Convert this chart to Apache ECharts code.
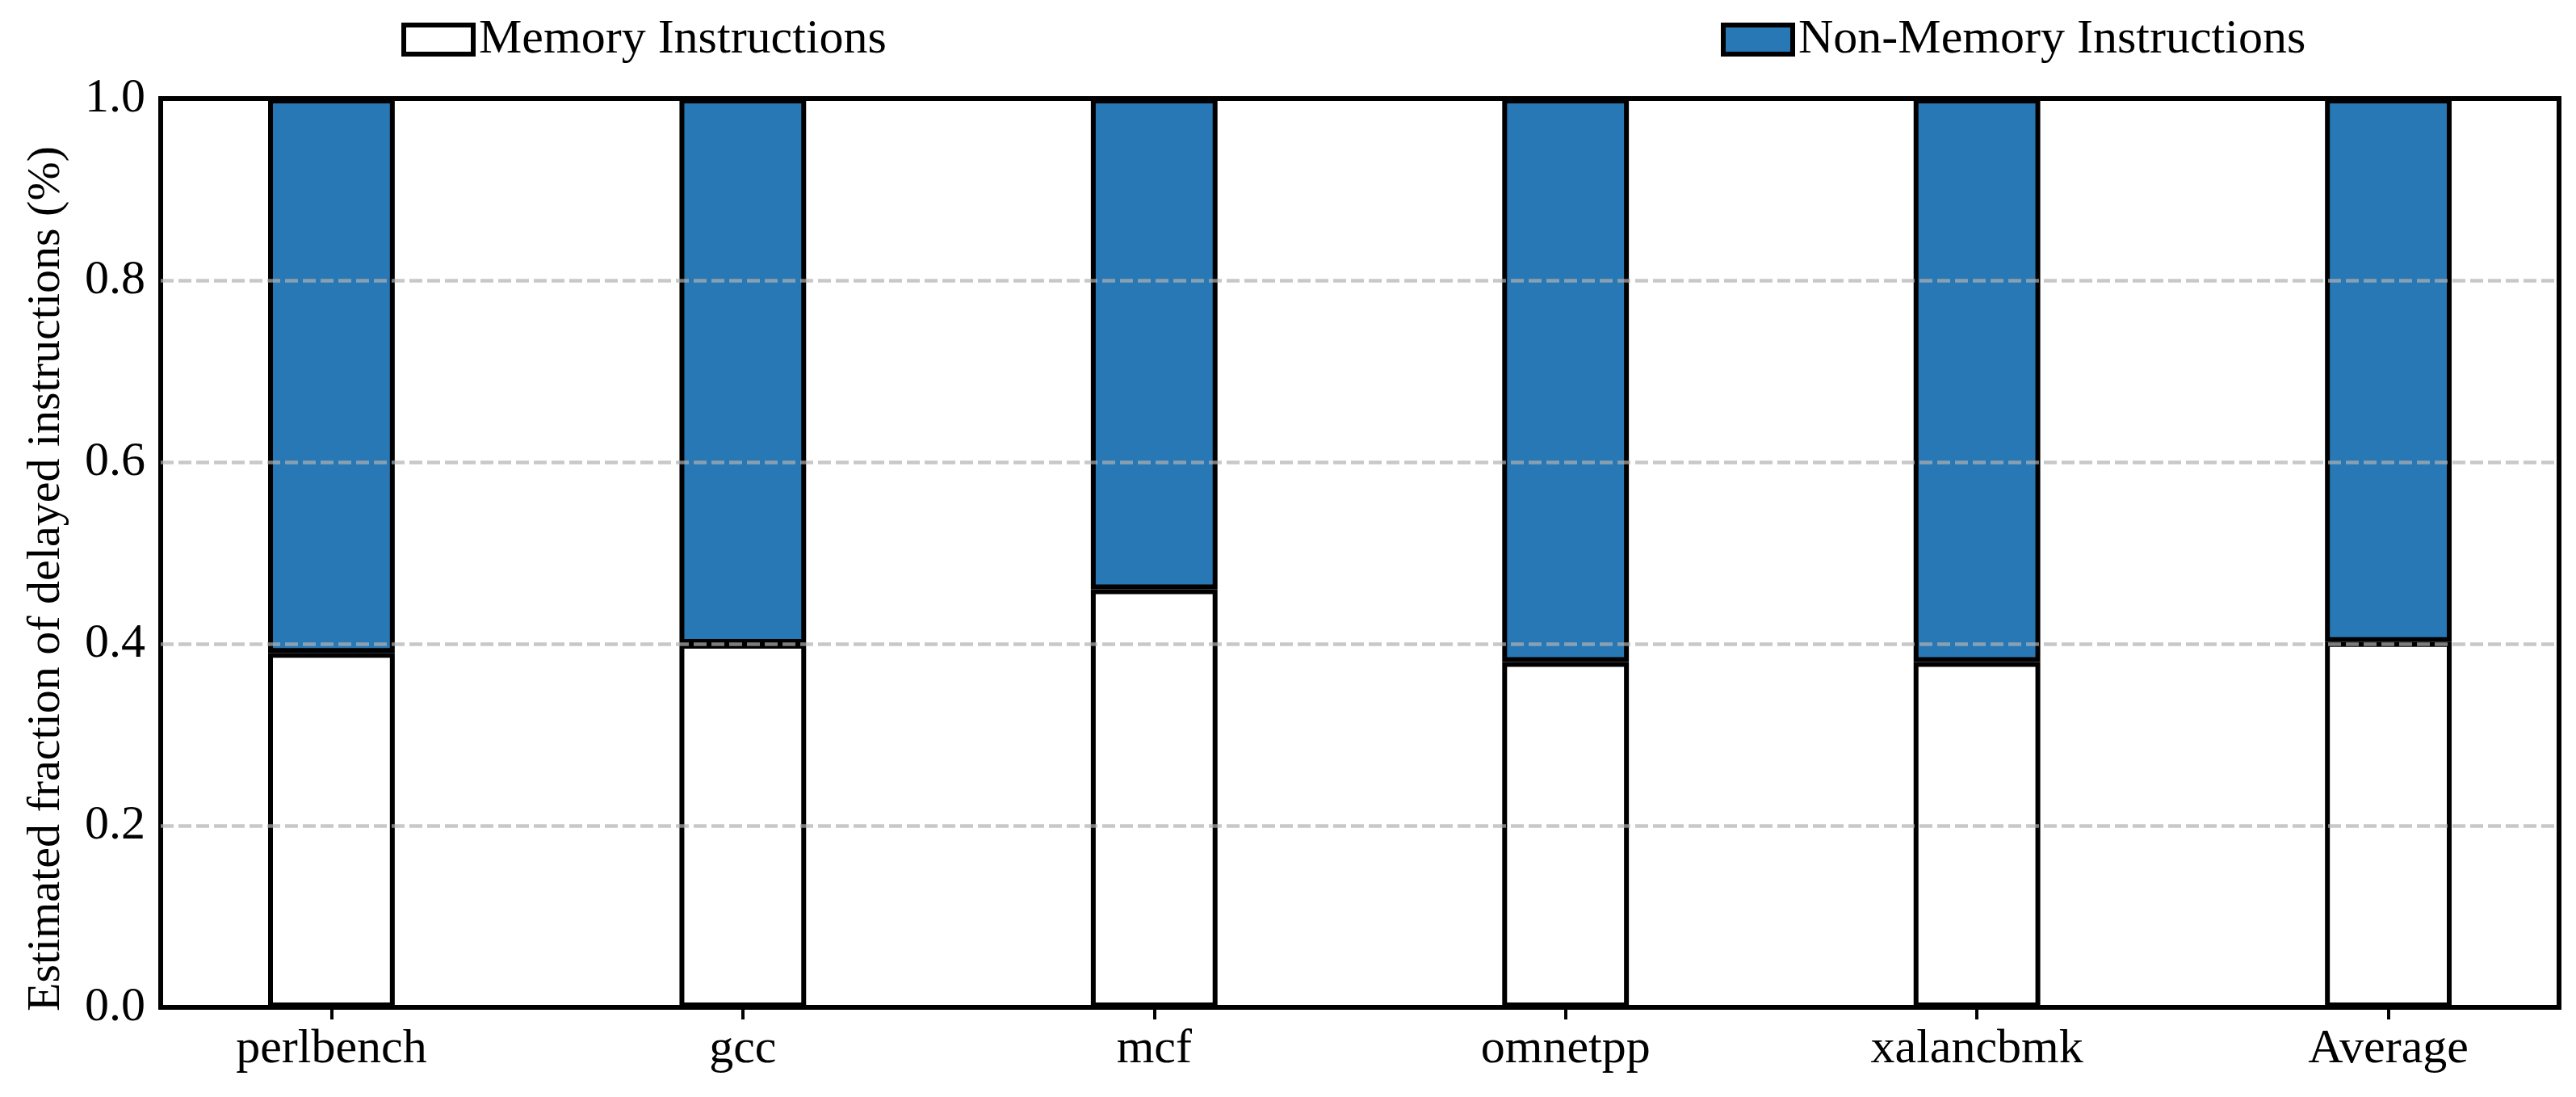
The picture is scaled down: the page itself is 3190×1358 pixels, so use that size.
<!DOCTYPE html>
<html>
<head>
<meta charset="utf-8">
<script src="https://cdn.jsdelivr.net/npm/echarts@6/dist/echarts.min.js"></script>
<style>
html,body{margin:0;padding:0;background:#fff;}
#chart{width:3190px;height:1358px;}
</style>
</head>
<body>
<div id="chart"></div>
<script>
const categories = ['perlbench', 'gcc', 'mcf', 'omnetpp', 'xalancbmk', 'Average'];
const memoryValues = [0.39, 0.40, 0.46, 0.38, 0.38, 0.402];
const nonMemoryValues = [0.61, 0.60, 0.54, 0.62, 0.62, 0.598];
const yTicks = [0.0, 0.2, 0.4, 0.6, 0.8, 1.0];
const seriesNames = ['Memory Instructions', 'Non-Memory Instructions'];

const FONT = "'Times New Roman', 'Liberation Serif', serif";
const FS = 60;
const W = 3190, H = 1358;
const gridLeft = 199, gridRight = 21, gridTop = 122, gridBottom = 111;
// matplotlib-like x-limits around the category positions
const xMin = -0.415, xMax = 5.415;
const barUnits = 0.3;
const plotW = W - gridLeft - gridRight;
const pxPerUnit = plotW / (xMax - xMin);
const barPx = pxPerUnit * barUnits + 4;
// category grid: first category at its left edge, last at its right edge
const catLeft = gridLeft + (0 - xMin) * pxPerUnit;
const catWidth = (categories.length - 1) * pxPerUnit;

const chart = echarts.init(document.getElementById('chart'), null, {renderer: 'canvas', devicePixelRatio: 1, width: W, height: H});

const legendBase = {
  top: 14, icon: 'rect',
  itemWidth: 86, itemHeight: 36,
  itemStyle: {borderWidth: 6, borderColor: '#000'},
  textStyle: {fontFamily: FONT, fontSize: FS, color: '#000', padding: [0, 0, 0, 2]}
};

const option = {
  animation: false,
  backgroundColor: '#ffffff',
  textStyle: {fontFamily: FONT},
  legend: [
    Object.assign({}, legendBase, {data: [seriesNames[0]], left: 492}),
    Object.assign({}, legendBase, {data: [seriesNames[1]], left: 2126})
  ],
  grid: [
    {
      left: gridLeft, right: gridRight, top: gridTop, bottom: gridBottom,
      show: true, borderColor: '#000', borderWidth: 6, backgroundColor: 'transparent',
      containLabel: false
    },
    {
      left: catLeft, width: catWidth, top: gridTop, bottom: gridBottom,
      show: false, containLabel: false
    }
  ],
  xAxis: [
    {
      gridIndex: 0, type: 'value', min: xMin, max: xMax,
      show: false
    },
    {
      gridIndex: 1, type: 'category', data: categories, boundaryGap: false,
      axisLine: {show: false},
      splitLine: {show: false},
      axisTick: {show: true, length: 15, inside: false, lineStyle: {color: '#000', width: 4}},
      axisLabel: {margin: 22, fontSize: FS, color: '#000', fontFamily: FONT, interval: 0}
    }
  ],
  yAxis: [
    {
      gridIndex: 0, type: 'value', min: 0, max: 1, interval: 0.2, z: 5,
      name: 'Estimated fraction of delayed instructions (%)',
      nameLocation: 'middle', nameGap: 112,
      nameTextStyle: {fontFamily: FONT, fontSize: 58, color: '#000', padding: [0, 64, 0, 0]},
      axisLine: {show: false},
      axisTick: {show: false},
      axisLabel: {
        customValues: yTicks,
        formatter: v => v.toFixed(1),
        margin: 19, fontSize: FS, color: '#000', fontFamily: FONT
      },
      splitLine: {
        show: true, showMinLine: false, showMaxLine: false,
        lineStyle: {color: 'rgba(176,176,176,0.7)', width: 4.5, type: [16, 6]}
      }
    },
    {
      gridIndex: 1, type: 'value', min: 0, max: 1, show: false
    }
  ],
  series: [
    {
      name: seriesNames[0], type: 'bar', stack: 'total', clip: false,
      xAxisIndex: 1, yAxisIndex: 1,
      barWidth: barPx,
      data: memoryValues,
      itemStyle: {color: '#ffffff', borderColor: '#000', borderWidth: 6}
    },
    {
      name: seriesNames[1], type: 'bar', stack: 'total', clip: false,
      xAxisIndex: 1, yAxisIndex: 1,
      barWidth: barPx,
      data: nonMemoryValues,
      itemStyle: {color: '#2878b5', borderColor: '#000', borderWidth: 6}
    }
  ]
};
chart.setOption(option);
</script>
</body>
</html>
